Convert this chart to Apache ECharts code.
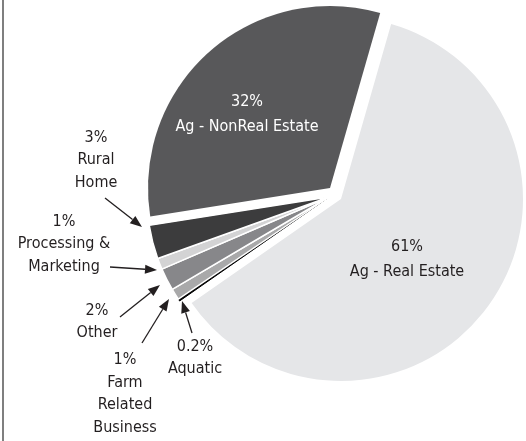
<!DOCTYPE html>
<html>
<head>
<meta charset="utf-8">
<script src="https://cdn.jsdelivr.net/npm/echarts/dist/echarts.min.js"></script>
<style>
  html, body { margin: 0; padding: 0; background: #fff; }
</style>
</head>
<body>
<div id="chart" style="width: 526px; height: 441px;"></div>
<script>
// slices, clockwise from the top boundary between the two big ones
const sliceNames = ['Ag - Real Estate', 'Aquatic', 'Farm Related Business', 'Other', 'Processing & Marketing', 'Rural Home', 'Ag - NonReal Estate'];
const sliceValues = [61, 0.2, 1, 2, 1, 3, 32];
const slicePct = ['61%', '0.2%', '1%', '2%', '1%', '3%', '32%'];
const sliceText = ['Ag - Real Estate', 'Aquatic', 'Farm\nRelated\nBusiness', 'Other', 'Processing &\nMarketing', 'Rural\nHome', 'Ag - NonReal Estate'];
const sliceColors = ['#e5e6e8', '#000000', '#a9a9aa', '#87878a', '#d3d3d4', '#3c3c3d', '#58585a'];
// which piece of the exploded pie each slice belongs to
const sliceGroup = [2, 1, 1, 1, 1, 1, 0];

// layout
const groupCenters = [[330, 188], [329, 197], [341, 199]];
const labelPos = [[407, 259], [195, 358], [125, 394], [97, 322], [64, 244], [96, 160], [247, 114]];
const arrows = [
  [[105, 198], [142, 227]],
  [[110, 267], [157, 270]],
  [[120, 317], [160, 285]],
  [[142, 343], [169, 299]],
  [[192, 333], [182, 301]]
];
const font = "'Liberation Sans Narrow', 'DejaVu Sans Condensed', sans-serif";

const seriesList = [];
groupCenters.forEach(function (center, g) {
  const data = sliceValues.map(function (v, i) {
    const on = sliceGroup[i] === g;
    let bw = 0, bc = '#fff';
    if (on && g === 1) {
      bw = 1.5;
      if (i === 1) { bw = 1; bc = '#000'; }
    }
    return {
      name: sliceNames[i],
      value: v,
      itemStyle: {
        color: on ? sliceColors[i] : 'rgba(0,0,0,0)',
        borderColor: bc,
        borderWidth: bw
      },
      label: {
        show: on,
        color: i === 6 ? '#ffffff' : '#231f20',
        lineHeight: g === 1 ? 22.5 : 25
      }
    };
  });
  seriesList.push({
    type: 'pie',
    center: center,
    radius: [0, 182],
    startAngle: 74,
    clockwise: true,
    avoidLabelOverlap: false,
    silent: true,
    label: {
      position: 'inside',
      fontFamily: font,
      fontSize: 16,
      formatter: function (p) {
        return slicePct[p.dataIndex] + '\n' + sliceText[p.dataIndex];
      }
    },
    labelLine: { show: false },
    labelLayout: function (params) {
      const p = labelPos[params.dataIndex];
      return { x: p[0], y: p[1], align: 'center', verticalAlign: 'middle' };
    },
    data: data
  });
});

// arrows pointing from the outside labels to the thin slices
const graphics = [
  { type: 'line', shape: { x1: 3, y1: 0, x2: 3, y2: 441 }, style: { stroke: '#555', lineWidth: 1.5 } }
];
arrows.forEach(function (a) {
  const tail = a[0], tip = a[1];
  const dx = tip[0] - tail[0], dy = tip[1] - tail[1];
  const len = Math.sqrt(dx * dx + dy * dy);
  const ux = dx / len, uy = dy / len;
  const bx = tip[0] - ux * 12, by = tip[1] - uy * 12;
  graphics.push({
    type: 'line',
    shape: { x1: tail[0], y1: tail[1], x2: bx, y2: by },
    style: { stroke: '#231f20', lineWidth: 1.3 }
  });
  graphics.push({
    type: 'polygon',
    shape: { points: [tip, [bx - uy * 4.5, by + ux * 4.5], [bx + uy * 4.5, by - ux * 4.5]] },
    style: { fill: '#231f20' }
  });
});

const option = {
  animation: false,
  backgroundColor: '#fff',
  graphic: graphics,
  series: seriesList
};

const myChart = echarts.init(document.getElementById('chart'));
myChart.setOption(option);
</script>
</body>
</html>
